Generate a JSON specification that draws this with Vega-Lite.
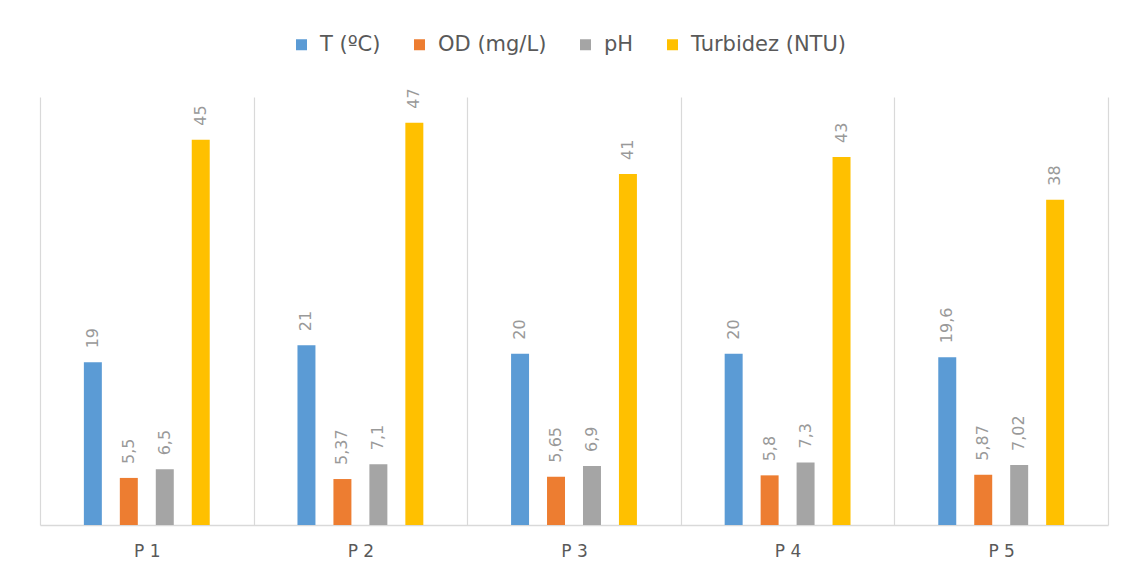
{
  "$schema": "https://vega.github.io/schema/vega-lite/v6.json",
  "width": 1068,
  "height": 428,
  "autosize": {"type": "none"},
  "padding": {"left": 40, "top": 97, "right": 33, "bottom": 58},
  "background": "white",
  "config": {
    "view": {"stroke": null},
    "font": "DejaVu Sans",
    "axis": {"labelFont": "DejaVu Sans", "titleFont": "DejaVu Sans"},
    "legend": {"labelFont": "DejaVu Sans"}
  },
  "data": {
    "values": [
      {"punto": "P 1", "param": "T (ºC)", "valor": 19, "etiqueta": "19"},
      {"punto": "P 1", "param": "OD (mg/L)", "valor": 5.5, "etiqueta": "5,5"},
      {"punto": "P 1", "param": "pH", "valor": 6.5, "etiqueta": "6,5"},
      {"punto": "P 1", "param": "Turbidez (NTU)", "valor": 45, "etiqueta": "45"},
      {"punto": "P 2", "param": "T (ºC)", "valor": 21, "etiqueta": "21"},
      {"punto": "P 2", "param": "OD (mg/L)", "valor": 5.37, "etiqueta": "5,37"},
      {"punto": "P 2", "param": "pH", "valor": 7.1, "etiqueta": "7,1"},
      {"punto": "P 2", "param": "Turbidez (NTU)", "valor": 47, "etiqueta": "47"},
      {"punto": "P 3", "param": "T (ºC)", "valor": 20, "etiqueta": "20"},
      {"punto": "P 3", "param": "OD (mg/L)", "valor": 5.65, "etiqueta": "5,65"},
      {"punto": "P 3", "param": "pH", "valor": 6.9, "etiqueta": "6,9"},
      {"punto": "P 3", "param": "Turbidez (NTU)", "valor": 41, "etiqueta": "41"},
      {"punto": "P 4", "param": "T (ºC)", "valor": 20, "etiqueta": "20"},
      {"punto": "P 4", "param": "OD (mg/L)", "valor": 5.8, "etiqueta": "5,8"},
      {"punto": "P 4", "param": "pH", "valor": 7.3, "etiqueta": "7,3"},
      {"punto": "P 4", "param": "Turbidez (NTU)", "valor": 43, "etiqueta": "43"},
      {"punto": "P 5", "param": "T (ºC)", "valor": 19.6, "etiqueta": "19,6"},
      {"punto": "P 5", "param": "OD (mg/L)", "valor": 5.87, "etiqueta": "5,87"},
      {"punto": "P 5", "param": "pH", "valor": 7.02, "etiqueta": "7,02"},
      {"punto": "P 5", "param": "Turbidez (NTU)", "valor": 38, "etiqueta": "38"}
    ]
  },
  "encoding": {
    "x": {
      "field": "punto",
      "type": "nominal",
      "title": null,
      "scale": {"paddingInner": 0, "paddingOuter": 0},
      "axis": {
        "labelAngle": 0,
        "labelFontSize": 17,
        "labelColor": "#595959",
        "labelPadding": 18,
        "ticks": false,
        "domainColor": "#d9d9d9",
        "domainWidth": 1.5,
        "grid": true,
        "tickBand": "extent",
        "gridColor": "#d9d9d9",
        "gridWidth": 1.2
      }
    },
    "xOffset": {
      "field": "param",
      "type": "nominal",
      "scale": {
        "domain": ["hueco_izq", "T (ºC)", "OD (mg/L)", "pH", "Turbidez (NTU)", "hueco_der"],
        "paddingInner": 0.5,
        "paddingOuter": 0.22
      }
    },
    "y": {
      "field": "valor",
      "type": "quantitative",
      "scale": {"domain": [0, 50], "nice": false},
      "axis": null
    }
  },
  "layer": [
    {
      "mark": {"type": "bar"},
      "encoding": {
        "color": {
          "field": "param",
          "type": "nominal",
          "scale": {
            "domain": ["T (ºC)", "OD (mg/L)", "pH", "Turbidez (NTU)"],
            "range": ["#5B9BD5", "#ED7D31", "#A5A5A5", "#FFC000"]
          },
          "legend": {
            "title": null,
            "orient": "none",
            "direction": "horizontal",
            "legendX": 251,
            "legendY": -63,
            "symbolType": "square",
            "symbolSize": 121,
            "symbolStrokeWidth": 0,
            "labelFontSize": 21,
            "labelColor": "#595959",
            "labelOffset": 8,
            "columnPadding": 28
          }
        }
      }
    },
    {
      "mark": {
        "type": "text",
        "angle": 270,
        "align": "left",
        "baseline": "middle",
        "dx": 14,
        "fontSize": 16,
        "color": "#999999"
      },
      "encoding": {
        "text": {"field": "etiqueta", "type": "nominal"}
      }
    }
  ]
}
